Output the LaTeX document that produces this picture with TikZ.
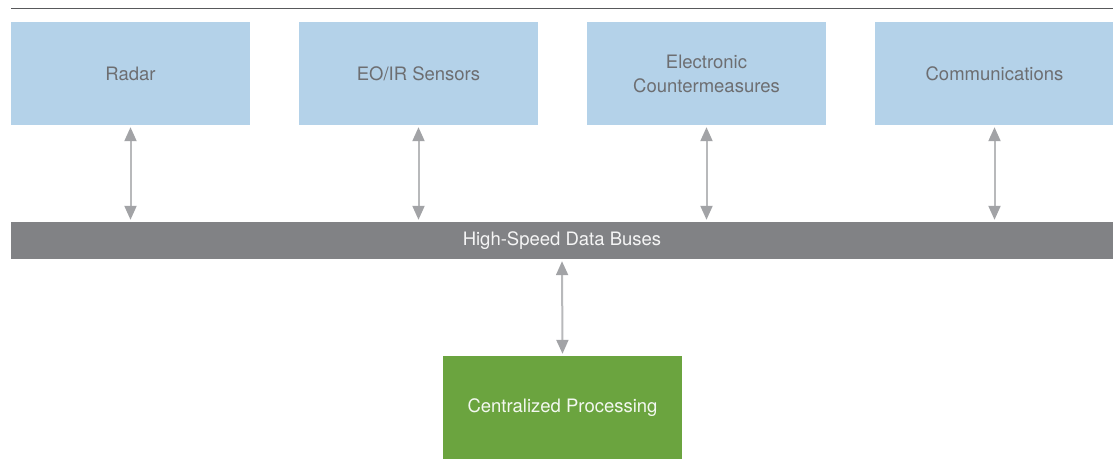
\documentclass[tikz,border=0pt]{standalone}
\usepackage{fontspec}
\setmainfont{TeX Gyre Heros}
\usetikzlibrary{arrows.meta}
\definecolor{boxblue}{HTML}{B4D2E9}
\definecolor{busgrey}{HTML}{818285}
\definecolor{procgreen}{HTML}{6BA43F}
\definecolor{txtgrey}{HTML}{6D6E71}
\definecolor{arrgrey}{HTML}{B8B9BB}
\definecolor{headgrey}{HTML}{A2A3A6}
\definecolor{rulegrey}{HTML}{58595B}
\tikzset{
  lbl/.style={font=\fontsize{18.5}{24}\selectfont},
  unit/.style={lbl, fill=boxblue, draw=none, minimum width=239pt, minimum height=103pt, inner sep=0pt, text=txtgrey, align=center},
  busbox/.style={lbl, fill=busgrey, draw=none, minimum width=1102pt, minimum height=37pt, inner sep=0pt, text=white!92!busgrey},
  procbox/.style={lbl, fill=procgreen, draw=none, minimum width=239pt, minimum height=103pt, inner sep=0pt, text=white!92!procgreen},
  link/.style={draw=arrgrey, line width=2pt, {Triangle[width=12pt,length=14pt,color=headgrey]}-{Triangle[width=12pt,length=14pt,color=headgrey]}, shorten <=2pt, shorten >=2pt}
}
\begin{document}
\begin{tikzpicture}[x=1pt,y=-1pt]
\useasboundingbox (0,0) rectangle (1113,474);
\draw[rulegrey, line width=1.3pt] (11,8.5) -- (1113,8.5);
\node[unit] (radar) at (130.5,73.5) {Radar};
\node[unit] (eoir) at (418.5,73.5) {EO/IR Sensors};
\node[unit] (ecm) at (706.5,73.5) {Electronic\\Countermeasures};
\node[unit] (comm) at (994.5,73.5) {Communications};
\node[busbox] (bus) at (562,240.5) {High-Speed Data Buses};
\node[procbox] (proc) at (562.5,407.5) {Centralized Processing};
\draw[link] (radar.south) -- (radar.south |- bus.north);
\draw[link] (eoir.south) -- (eoir.south |- bus.north);
\draw[link] (ecm.south) -- (ecm.south |- bus.north);
\draw[link] (comm.south) -- (comm.south |- bus.north);
\draw[link] (bus.south) -- (proc.north);
\end{tikzpicture}
\end{document}
